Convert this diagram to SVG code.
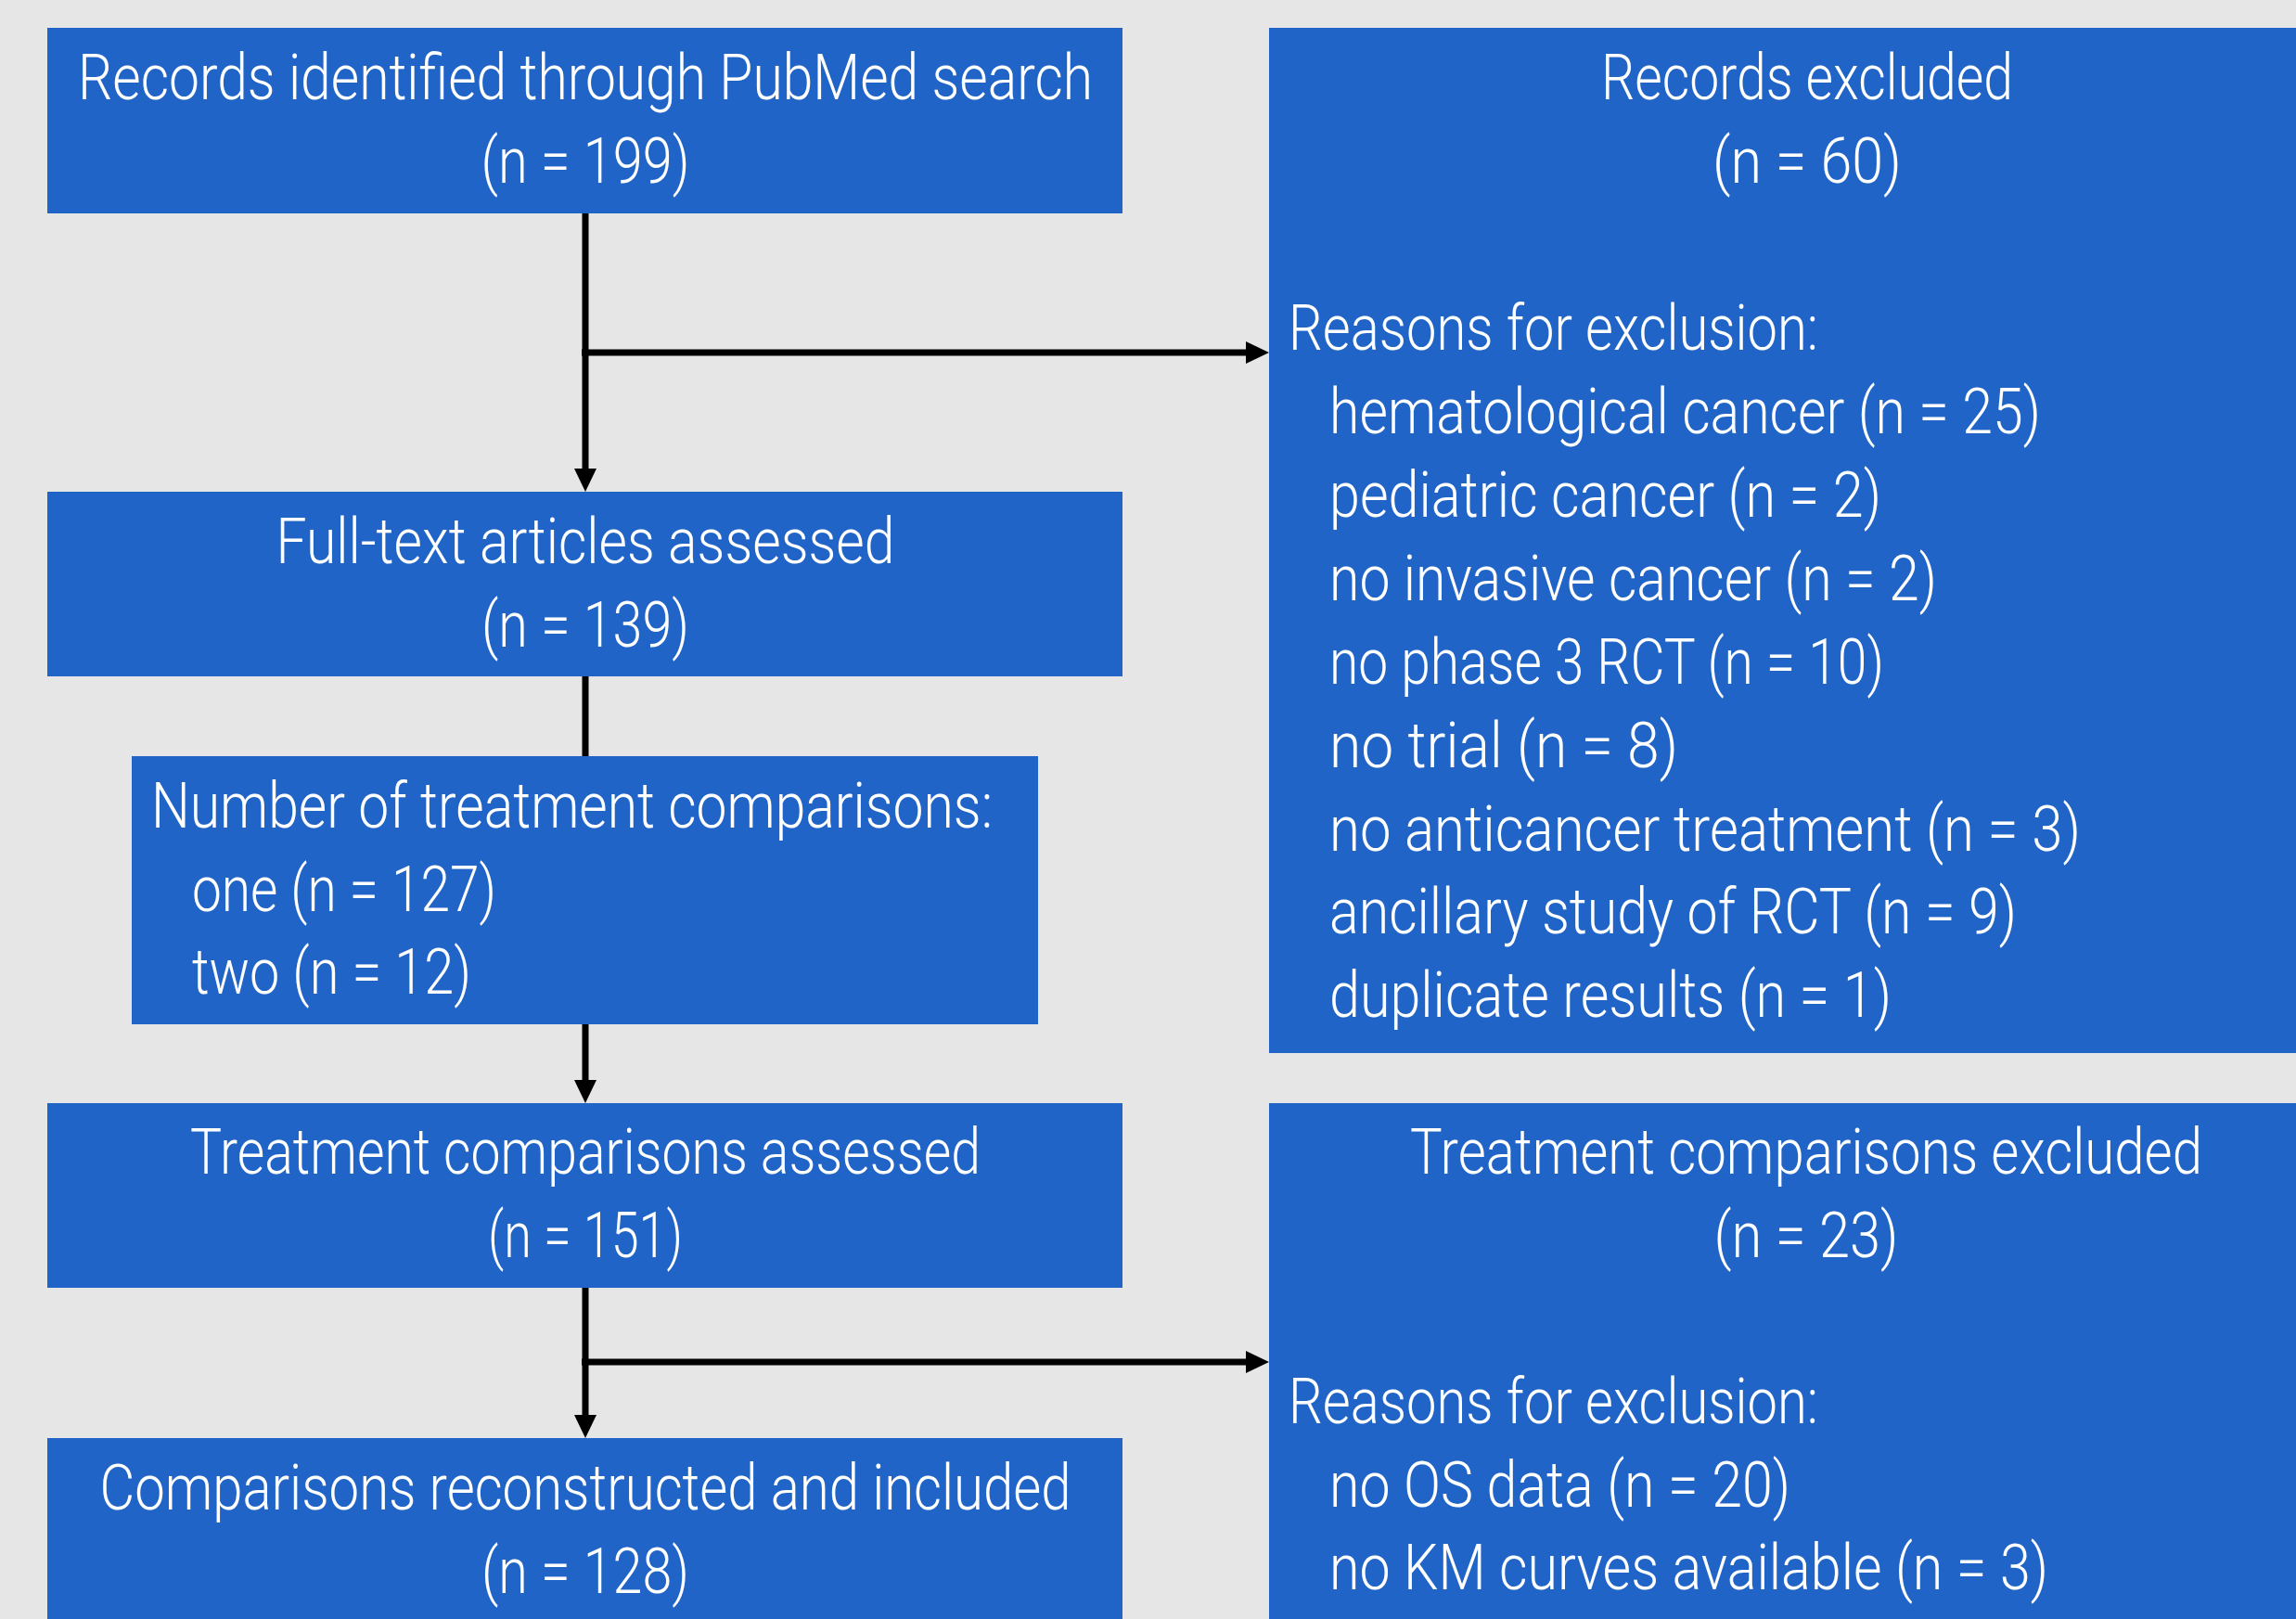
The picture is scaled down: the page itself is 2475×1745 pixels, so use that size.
<svg xmlns="http://www.w3.org/2000/svg" width="2475" height="1745" viewBox="0 0 2475 1745">
<style>
.box{fill:#2064C8;}
.t{fill:#FFFFFF;font-family:Roboto,"Liberation Sans",Arial,sans-serif;font-weight:300;font-size:69px;}
.c{text-anchor:middle;}
.ln{stroke:#000000;stroke-width:7;fill:none;}
</style>
<defs>
<marker id="ah" markerUnits="userSpaceOnUse" markerWidth="26" markerHeight="24" refX="6" refY="12" orient="auto" overflow="visible">
<path d="M0,0 L25,12 L0,24 Z" fill="#000000"/>
</marker>
</defs>
<rect x="0" y="0" width="2475" height="1745" fill="#E6E6E6"/>
<g id="connectors">
<line class="ln" x1="631" y1="230" x2="631" y2="511" marker-end="url(#ah)"/>
<line class="ln" x1="627" y1="380" x2="1349" y2="380" marker-end="url(#ah)"/>
<line class="ln" x1="631" y1="729" x2="631" y2="815"/>
<line class="ln" x1="631" y1="1104" x2="631" y2="1170" marker-end="url(#ah)"/>
<line class="ln" x1="631" y1="1388" x2="631" y2="1531" marker-end="url(#ah)"/>
<line class="ln" x1="627" y1="1468" x2="1349" y2="1468" marker-end="url(#ah)"/>
</g>
<g id="records-identified">
<rect class="box" x="51" y="30" width="1159" height="200"/>
<text class="t c" x="631" y="107" textLength="1094" lengthAdjust="spacingAndGlyphs">Records identified through PubMed search</text>
<text class="t c" x="631" y="197" textLength="225" lengthAdjust="spacingAndGlyphs">(n = 199)</text>
</g>
<g id="records-excluded">
<rect class="box" x="1368" y="30" width="1107" height="1105"/>
<text class="t c" x="1948" y="107" textLength="444" lengthAdjust="spacingAndGlyphs">Records excluded</text>
<text class="t c" x="1948" y="197" textLength="204" lengthAdjust="spacingAndGlyphs">(n = 60)</text>
<text class="t" x="1389" y="377" textLength="571" lengthAdjust="spacingAndGlyphs">Reasons for exclusion:</text>
<text class="t" x="1433" y="467" textLength="767" lengthAdjust="spacingAndGlyphs">hematological cancer (n = 25)</text>
<text class="t" x="1433" y="557" textLength="595" lengthAdjust="spacingAndGlyphs">pediatric cancer (n = 2)</text>
<text class="t" x="1433" y="647" textLength="655" lengthAdjust="spacingAndGlyphs">no invasive cancer (n = 2)</text>
<text class="t" x="1433" y="737" textLength="598" lengthAdjust="spacingAndGlyphs">no phase 3 RCT (n = 10)</text>
<text class="t" x="1433" y="827" textLength="376" lengthAdjust="spacingAndGlyphs">no trial (n = 8)</text>
<text class="t" x="1433" y="917" textLength="810" lengthAdjust="spacingAndGlyphs">no anticancer treatment (n = 3)</text>
<text class="t" x="1433" y="1006" textLength="741" lengthAdjust="spacingAndGlyphs">ancillary study of RCT (n = 9)</text>
<text class="t" x="1433" y="1096" textLength="606" lengthAdjust="spacingAndGlyphs">duplicate results (n = 1)</text>
</g>
<g id="full-text-assessed">
<rect class="box" x="51" y="530" width="1159" height="199"/>
<text class="t c" x="631" y="607" textLength="667" lengthAdjust="spacingAndGlyphs">Full-text articles assessed</text>
<text class="t c" x="631" y="697" textLength="224" lengthAdjust="spacingAndGlyphs">(n = 139)</text>
</g>
<g id="number-of-comparisons">
<rect class="box" x="142" y="815" width="977" height="289"/>
<text class="t" x="163" y="892" textLength="907" lengthAdjust="spacingAndGlyphs">Number of treatment comparisons:</text>
<text class="t" x="207" y="982" textLength="328" lengthAdjust="spacingAndGlyphs">one (n = 127)</text>
<text class="t" x="207" y="1071" textLength="301" lengthAdjust="spacingAndGlyphs">two (n = 12)</text>
</g>
<g id="comparisons-assessed">
<rect class="box" x="51" y="1189" width="1159" height="199"/>
<text class="t c" x="631" y="1265" textLength="852" lengthAdjust="spacingAndGlyphs">Treatment comparisons assessed</text>
<text class="t c" x="631" y="1355" textLength="210" lengthAdjust="spacingAndGlyphs">(n = 151)</text>
</g>
<g id="comparisons-excluded">
<rect class="box" x="1368" y="1189" width="1107" height="556"/>
<text class="t c" x="1947" y="1265" textLength="854" lengthAdjust="spacingAndGlyphs">Treatment comparisons excluded</text>
<text class="t c" x="1947" y="1355" textLength="199" lengthAdjust="spacingAndGlyphs">(n = 23)</text>
<text class="t" x="1389" y="1534" textLength="571" lengthAdjust="spacingAndGlyphs">Reasons for exclusion:</text>
<text class="t" x="1433" y="1624" textLength="497" lengthAdjust="spacingAndGlyphs">no OS data (n = 20)</text>
<text class="t" x="1433" y="1713" textLength="775" lengthAdjust="spacingAndGlyphs">no KM curves available (n = 3)</text>
</g>
<g id="comparisons-included">
<rect class="box" x="51" y="1550" width="1159" height="195"/>
<text class="t c" x="631" y="1627" textLength="1047" lengthAdjust="spacingAndGlyphs">Comparisons reconstructed and included</text>
<text class="t c" x="631" y="1717" textLength="224" lengthAdjust="spacingAndGlyphs">(n = 128)</text>
</g>
</svg>
